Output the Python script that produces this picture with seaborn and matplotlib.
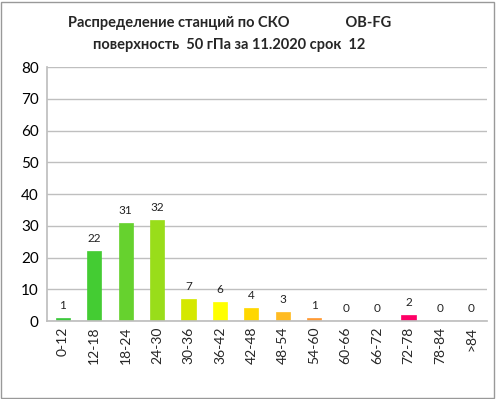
import matplotlib
matplotlib.use("Agg")
import matplotlib.pyplot as plt
import seaborn as sns
import pandas as pd
from matplotlib.patches import Rectangle

categories = ["0-12", "12-18", "18-24", "24-30", "30-36", "36-42", "42-48", "48-54",
              "54-60", "60-66", "66-72", "72-78", "78-84", ">84"]
values = [1, 22, 31, 32, 7, 6, 4, 3, 1, 0, 0, 2, 0, 0]
colors = ["#3cc83c", "#44cc33", "#66d22e", "#99dd1a", "#d4e800", "#ffff00", "#ffd700",
          "#ffbb22", "#ff9933", "#cccccc", "#cccccc", "#ff0066", "#cccccc", "#cccccc"]
title_line1 = "Распределение станций по СКО                OB-FG"
title_line2 = "поверхность  50 гПа за 11.2020 срок  12"

sns.set_theme(style="white")
plt.rcParams['font.family'] = ['Lato', 'DejaVu Sans']

df = pd.DataFrame({"cat": categories, "val": values})

fig = plt.figure(figsize=(4.96, 3.99), dpi=100)
ax = fig.add_axes([0.095, 0.195, 0.887, 0.637])
sns.barplot(data=df, x="cat", y="val", hue="cat", palette=colors, legend=False,
            width=0.45, ax=ax, saturation=1, linewidth=0)
for p, c in zip(ax.patches, colors):
    p.set_facecolor(c)
    p.set_edgecolor(c)
    p.set_linewidth(0.5)

ax.set_ylim(0, 80)
ax.set_yticks(range(0, 81, 10))
ax.set_xlim(-0.5, len(categories) - 0.5)
ax.yaxis.grid(True, color="#bfbfbf", linewidth=1)
ax.set_axisbelow(True)
for s in ["top", "right"]:
    ax.spines[s].set_visible(False)
ax.spines["left"].set_color("#bfbfbf")
ax.spines["bottom"].set_color("#bfbfbf")
ax.set_xlabel("")
ax.set_ylabel("")
ax.tick_params(axis="y", labelsize=11, colors="#000000", length=0, pad=6)
ax.tick_params(axis="x", labelsize=10, rotation=90, length=0, pad=4)
ax.set_xticks([i - 0.5 for i in range(len(categories) + 1)], minor=True)
ax.tick_params(axis="x", which="minor", length=5, color="#bfbfbf", direction="out")

for i, v in enumerate(values):
    ax.text(i, v + 2.2, str(v), ha="center", va="bottom", fontsize=8.5, color="#222222")

fig.text(0.462, 0.943, title_line1, ha="center", va="center", fontsize=10.5, fontweight="bold")
fig.text(0.462, 0.886, title_line2, ha="center", va="center", fontsize=10.5, fontweight="bold")

fig.patches.append(Rectangle((0.002, 0.002), 0.994, 0.994, transform=fig.transFigure,
                             fill=False, edgecolor="#999999", linewidth=1))

fig.savefig("out.png", dpi=100)
